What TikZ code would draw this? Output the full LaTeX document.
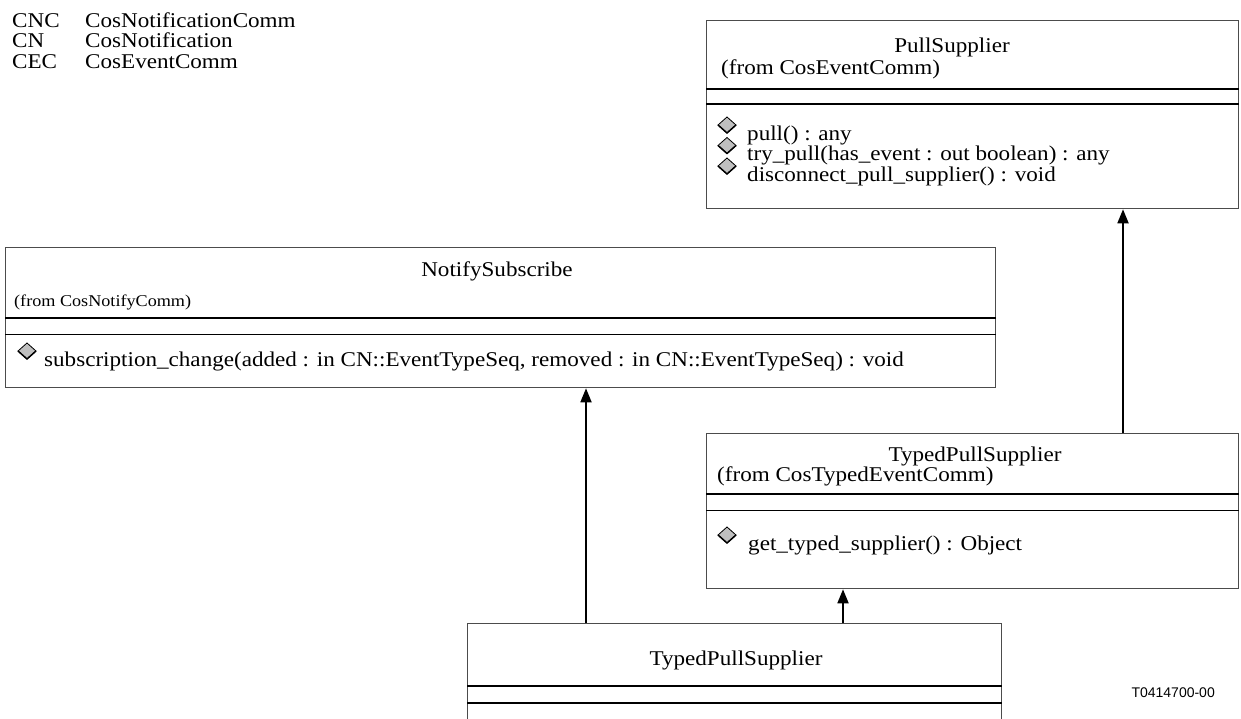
\documentclass[tikz,border=0pt]{standalone}
\usepackage{fontspec}
\setmainfont[FakeStretch=1.1]{Liberation Serif}
\newfontfamily\tcodefont{Liberation Sans}
\usetikzlibrary{arrows.meta}
\tikzset{
  classbox/.style={draw=black!70, line width=1.3pt, anchor=north west, inner sep=0pt, fill=white},
  sepline/.style={line width=1.8pt, draw=black},
  txt/.style={inner sep=0pt, font=\fontsize{21}{21}\selectfont, anchor=base west},
  ctitle/.style={inner sep=0pt, font=\fontsize{21}{21}\selectfont, anchor=base},
  smalltxt/.style={inner sep=0pt, font=\fontsize{16.5}{16.5}\selectfont, anchor=base west},
  codetxt/.style={inner sep=0pt, font=\tcodefont\fontsize{14}{14}\selectfont, anchor=base east},
  inherit/.style={line width=1.8pt, draw=black, -{Triangle[width=11pt,length=14pt]}},
  opicon/.pic={
    \filldraw[fill=black!25, draw=black, line width=0.8pt] (-9,0) -- (0,-8) -- (9,0) -- (0,8) -- cycle;
    \draw[line width=1.5pt, line join=round] (9,0) -- (0,8) -- (-9,0);
  }
}
\begin{document}
\begin{tikzpicture}[x=1pt,y=-1pt]
\useasboundingbox (0,0) rectangle (1241,718);
\clip (0,0) rectangle (1241,718);
\fill[white] (0,0) rectangle (1241,718);

% legend
\node[txt] (l1a) at (12,27) {CNC};
\node[txt] (l1b) at (85,27) {CosNotificationComm};
\node[txt] (l2a) at (12,47.5) {CN};
\node[txt] (l2b) at (85,47.5) {CosNotification};
\node[txt] (l3a) at (12,68) {CEC};
\node[txt] (l3b) at (85,68) {CosEventComm};

% PullSupplier
\node[classbox, minimum width=532pt, minimum height=188pt] (ps) at (706,20) {};
\node[ctitle] (pst) at (952,52) {PullSupplier};
\node[txt] (psf) at (721,74.5) {(from CosEventComm)};
\draw[sepline] (ps.west |- 0,89) -- (ps.east |- 0,89);
\draw[sepline] (ps.west |- 0,104) -- (ps.east |- 0,104);
\pic at (727,125) {opicon};
\node[txt] (psm1) at (747,140) {pull() : any};
\pic at (727,145.5) {opicon};
\node[txt] (psm2) at (747,160.5) {try\_pull(has\_event : out boolean) : any};
\pic at (727,166) {opicon};
\node[txt] (psm3) at (747,181) {disconnect\_pull\_supplier() : void};

% NotifySubscribe
\node[classbox, minimum width=990pt, minimum height=140pt] (ns) at (5,247) {};
\node[ctitle] (nst) at (497,276) {NotifySubscribe};
\node[smalltxt] (nsf) at (14,306) {(from CosNotifyComm)};
\draw[sepline] (ns.west |- 0,318) -- (ns.east |- 0,318);
\draw[sepline] (ns.west |- 0,334.5) -- (ns.east |- 0,334.5);
\pic at (27,351) {opicon};
\node[txt] (nsm1) at (44,366) {subscription\_change(added : in CN::EventTypeSeq, removed : in CN::EventTypeSeq) : void};

% TypedPullSupplier (CosTypedEventComm)
\node[classbox, minimum width=532pt, minimum height=155pt] (mid) at (706,433) {};
\node[ctitle] (midt) at (975,461) {TypedPullSupplier};
\node[txt] (midf) at (717,481) {(from CosTypedEventComm)};
\draw[sepline] (mid.west |- 0,494) -- (mid.east |- 0,494);
\draw[sepline] (mid.west |- 0,510.5) -- (mid.east |- 0,510.5);
\pic at (727,535) {opicon};
\node[txt] (midm1) at (748,550) {get\_typed\_supplier() : Object};

% TypedPullSupplier (bottom)
\node[classbox, minimum width=534pt, minimum height=120pt] (bot) at (467,623) {};
\node[ctitle] (bott) at (736,665) {TypedPullSupplier};
\draw[sepline] (bot.west |- 0,686) -- (bot.east |- 0,686);
\draw[sepline] (bot.west |- 0,703) -- (bot.east |- 0,703);

% connector x positions
\coordinate (xa) at (586,0);
\coordinate (xb) at (843,0);
\coordinate (xc) at (1123,0);

\draw[inherit] (bot.north -| xa) -- (ns.south -| xa);
\draw[inherit] (bot.north -| xb) -- (mid.south -| xb);
\draw[inherit] (mid.north -| xc) -- (ps.south -| xc);

\node[codetxt] (code) at (1215,697) {T0414700-00};
\end{tikzpicture}
\end{document}
